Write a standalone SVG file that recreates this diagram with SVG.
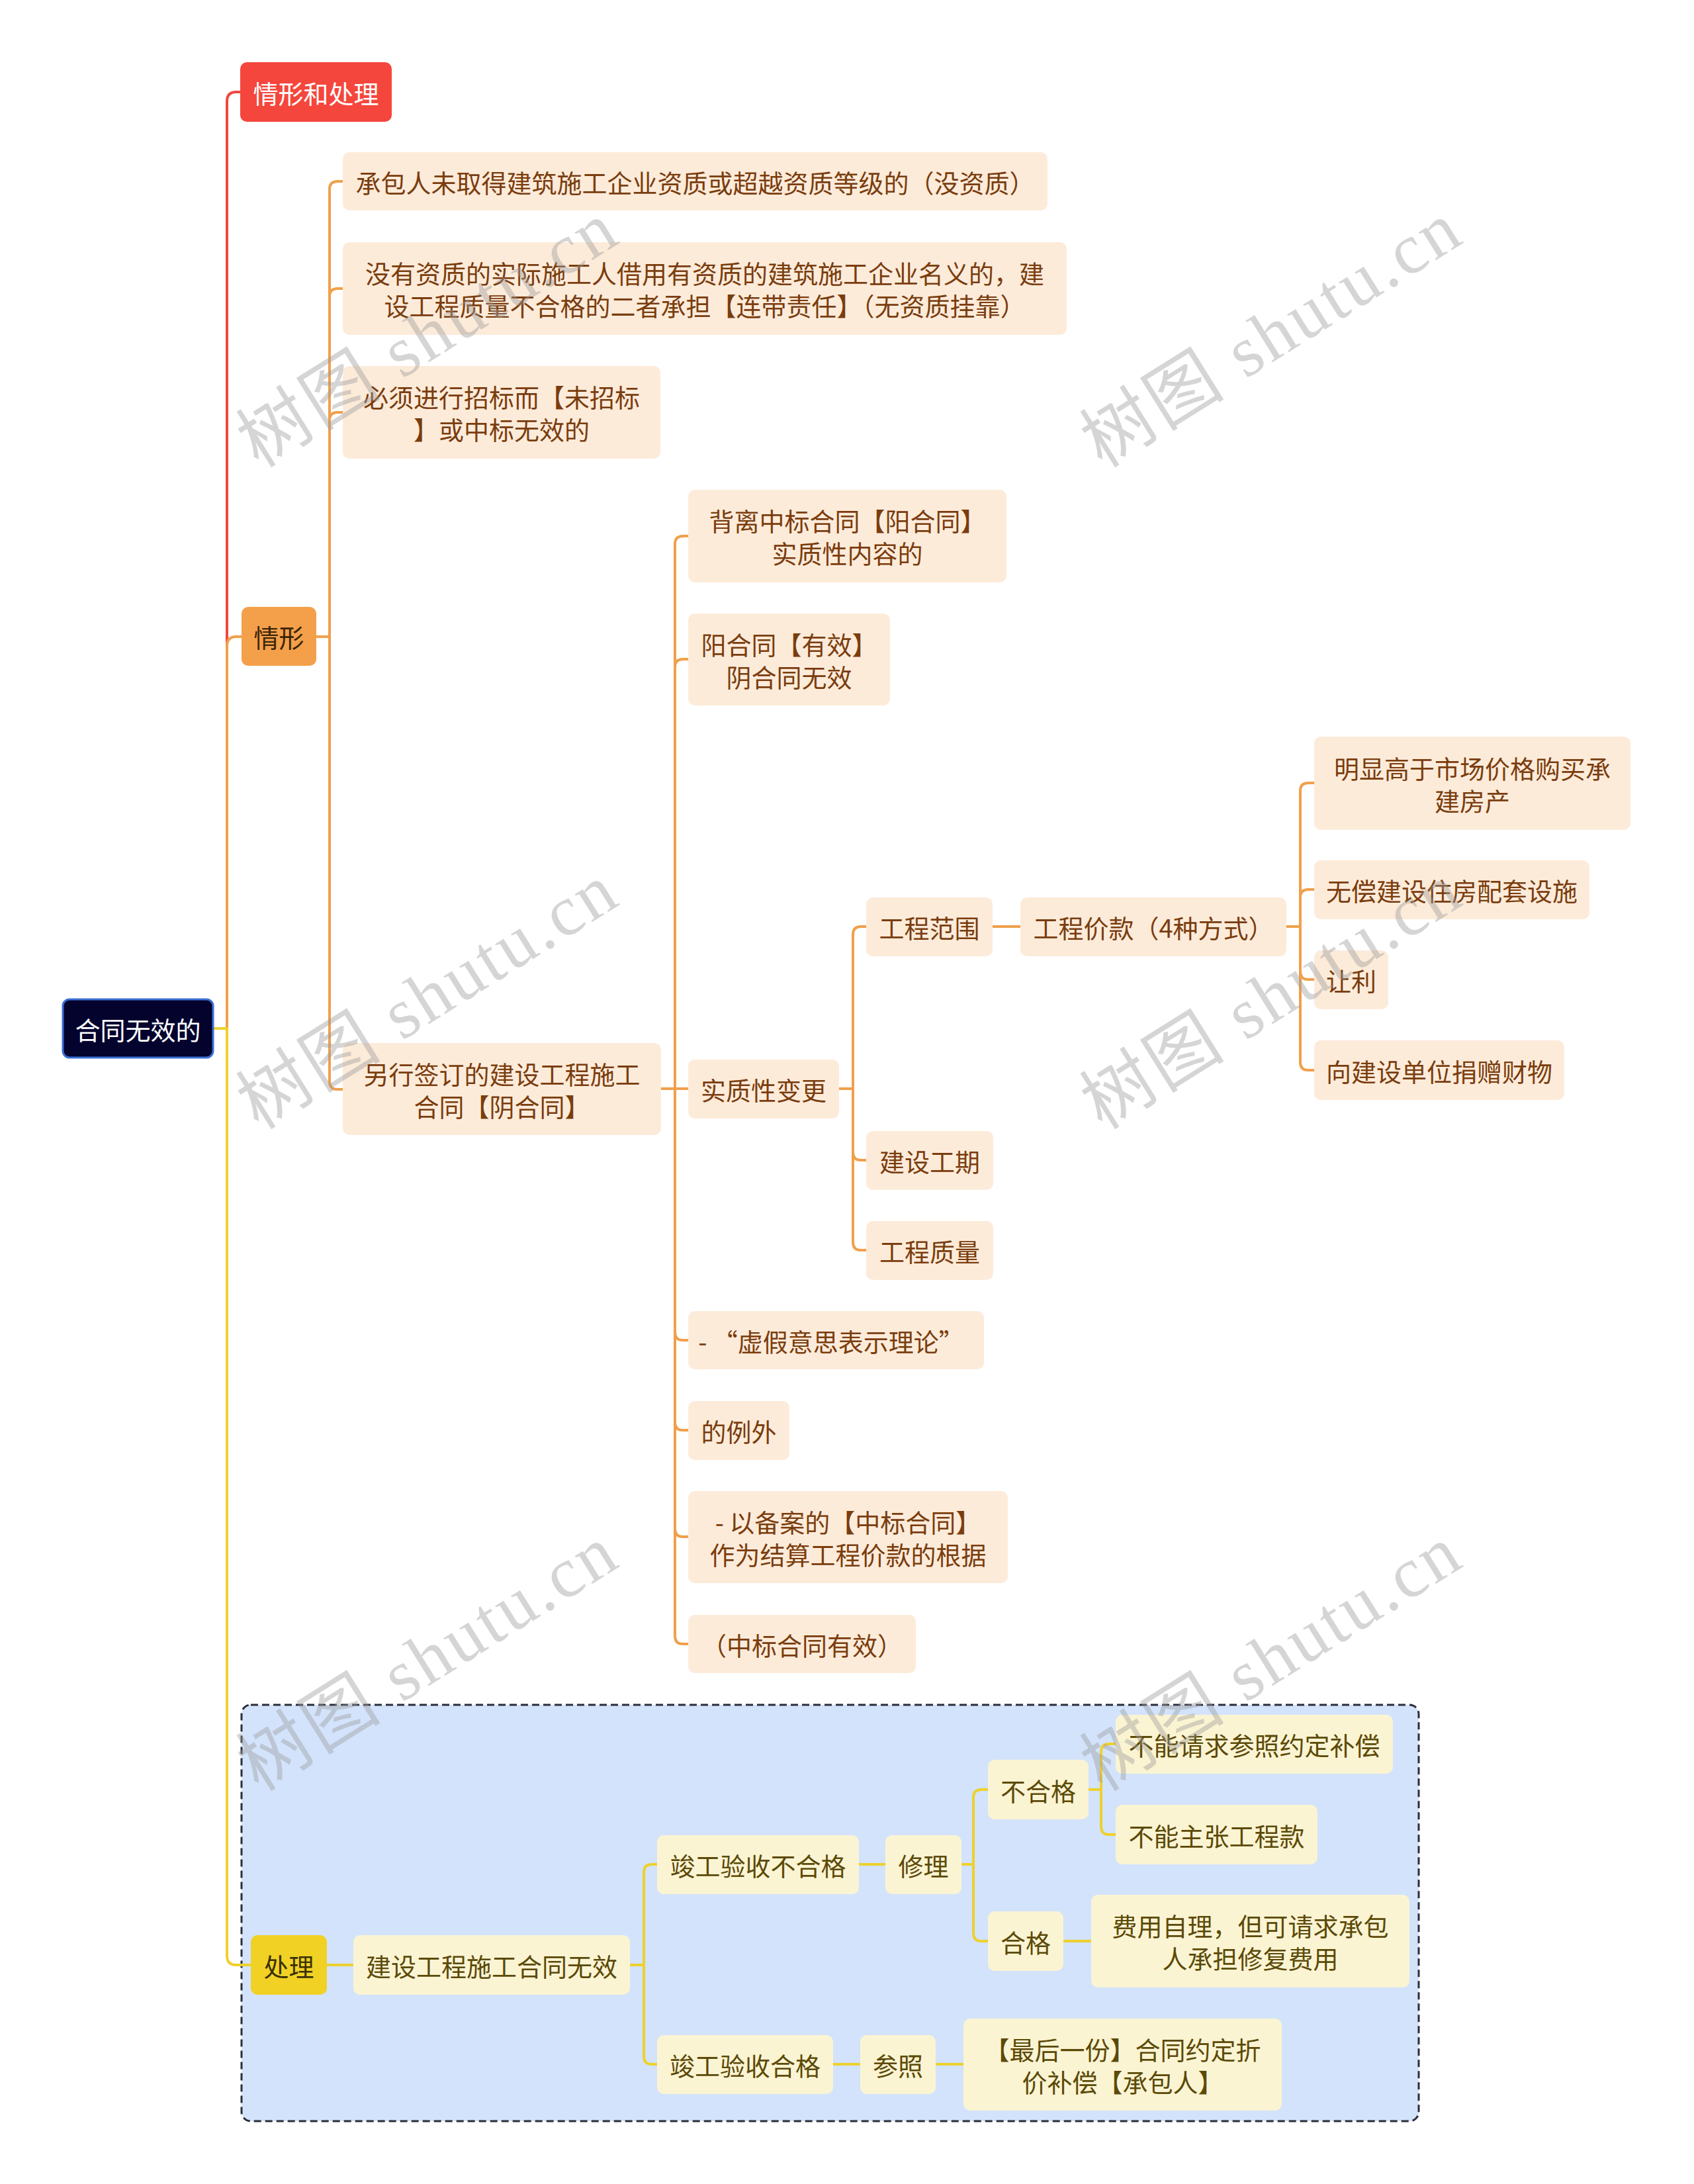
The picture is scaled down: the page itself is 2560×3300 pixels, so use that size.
<svg xmlns="http://www.w3.org/2000/svg" width="2560" height="3300" viewBox="0 0 2560 3300">
<style>
text{font-family:"Noto Sans CJK SC","Noto Sans",sans-serif;font-size:38px;text-anchor:middle;dominant-baseline:central}
.pe rect{fill:#FDEBDA}
.pe text{fill:#7A3D0E}
.ye rect{fill:#FBF4D3}
.ye text{fill:#5B4A08}
.c{fill:none;stroke-width:4;stroke-linecap:round;stroke-linejoin:round}
.co{stroke:#F0A04C}
.cy{stroke:#EDD12E}
.cr{stroke:#EE4840}
.wm{font-family:"Liberation Serif","Noto Sans CJK SC",serif;font-size:108px;fill:#9a9a9a;fill-opacity:0.42;letter-spacing:4px}
</style>
<rect width="2560" height="3300" fill="#FFFFFF"/>
<rect id="boundary" x="365" y="2576" width="1779" height="629" rx="14" fill="#D3E3FB" stroke="#2B2E3A" stroke-width="3" stroke-dasharray="11 6"/>
<g id="connectors">
<path class="c cr" d="M322 1554 H343 V153 Q343 139 357 139 H363"/>
<path class="c co" d="M322 1554 H343 V976 Q343 962 357 962 H365"/>
<path class="c cy" d="M322 1554 H343 V2955 Q343 2969 357 2969 H379"/>
<path class="c co" d="M478 962 H498 V286 Q498 274 510 274 H518"/>
<path class="c co" d="M478 962 H498 V448 Q498 436 510 436 H518"/>
<path class="c co" d="M478 962 H498 V635 Q498 623 510 623 H518"/>
<path class="c co" d="M478 962 H498 V1634 Q498 1646 510 1646 H518"/>
<path class="c co" d="M999 1645 H1020 V822 Q1020 810 1032 810 H1040"/>
<path class="c co" d="M999 1645 H1020 V1008 Q1020 996 1032 996 H1040"/>
<path class="c co" d="M999 1645 H1040"/>
<path class="c co" d="M999 1645 H1020 V2013 Q1020 2025 1032 2025 H1040"/>
<path class="c co" d="M999 1645 H1020 V2149 Q1020 2161 1032 2161 H1040"/>
<path class="c co" d="M999 1645 H1020 V2310 Q1020 2322 1032 2322 H1040"/>
<path class="c co" d="M999 1645 H1020 V2472 Q1020 2484 1032 2484 H1040"/>
<path class="c co" d="M1268 1645 H1289 V1412 Q1289 1400 1301 1400 H1309"/>
<path class="c co" d="M1268 1645 H1289 V1741 Q1289 1753 1301 1753 H1309"/>
<path class="c co" d="M1268 1645 H1289 V1877 Q1289 1889 1301 1889 H1309"/>
<path class="c co" d="M1500 1400 H1542"/>
<path class="c co" d="M1944 1400 H1965 V1195 Q1965 1183 1977 1183 H1986"/>
<path class="c co" d="M1944 1400 H1965 V1356 Q1965 1344 1977 1344 H1986"/>
<path class="c co" d="M1944 1400 H1965 V1468 Q1965 1480 1977 1480 H1986"/>
<path class="c co" d="M1944 1400 H1965 V1605 Q1965 1617 1977 1617 H1986"/>
<path class="c cy" d="M494 2969 H534"/>
<path class="c cy" d="M952 2969 H973 V2829 Q973 2817 985 2817 H993"/>
<path class="c cy" d="M952 2969 H973 V3107 Q973 3119 985 3119 H993"/>
<path class="c cy" d="M1298 2817 H1338"/>
<path class="c cy" d="M1453 2817 H1471 V2716 Q1471 2704 1483 2704 H1493"/>
<path class="c cy" d="M1453 2817 H1471 V2921 Q1471 2933 1483 2933 H1493"/>
<path class="c cy" d="M1645 2704 H1664 V2647 Q1664 2635 1676 2635 H1686"/>
<path class="c cy" d="M1645 2704 H1664 V2760 Q1664 2772 1676 2772 H1686"/>
<path class="c cy" d="M1607 2933 H1649"/>
<path class="c cy" d="M1259 3119 H1300"/>
<path class="c cy" d="M1414 3119 H1456"/>
</g>
<g id="root"><rect x="95" y="1510" width="227" height="88" rx="10" fill="#03032E" stroke="#3B6FD4" stroke-width="3"/><text x="208.5" y="1554" fill="#FFFFFF">合同无效的</text></g>
<g id="n-qxhcl"><rect x="363" y="94" width="229" height="90" rx="10" fill="#F5463D"/><text x="477.5" y="139" fill="#FFFFFF">情形和处理</text></g>
<g id="n-qx"><rect x="365" y="917" width="113" height="89" rx="10" fill="#F4A04A"/><text x="421.5" y="961.5" fill="#3B2508">情形</text></g>
<g id="n-cl"><rect x="379" y="2924" width="115" height="90" rx="10" fill="#F0D124"/><text x="436.5" y="2969" fill="#3A3000">处理</text></g>
<g id="a1" class="pe"><rect x="518" y="230" width="1065" height="88" rx="10"/><text x="1050.5" y="274">承包人未取得建筑施工企业资质或超越资质等级的（没资质）</text></g>
<g id="a2" class="pe"><rect x="518" y="366" width="1094" height="140" rx="10"/><text x="1065" y="411.5">没有资质的实际施工人借用有资质的建筑施工企业名义的，建</text><text x="1065" y="460.5">设工程质量不合格的二者承担【连带责任】（无资质挂靠）</text></g>
<g id="a3" class="pe"><rect x="518" y="553" width="480" height="140" rx="10"/><text x="758" y="598.5">必须进行招标而【未招标</text><text x="758" y="647.5">】或中标无效的</text></g>
<g id="a4" class="pe"><rect x="518" y="1576" width="481" height="139" rx="10"/><text x="758.5" y="1621">另行签订的建设工程施工</text><text x="758.5" y="1670">合同【阴合同】</text></g>
<g id="b1" class="pe"><rect x="1040" y="740" width="481" height="140" rx="10"/><text x="1280.5" y="785.5">背离中标合同【阳合同】</text><text x="1280.5" y="834.5">实质性内容的</text></g>
<g id="b2" class="pe"><rect x="1040" y="927" width="305" height="139" rx="10"/><text x="1192.5" y="972">阳合同【有效】</text><text x="1192.5" y="1021">阴合同无效</text></g>
<g id="b3" class="pe"><rect x="1040" y="1601" width="228" height="89" rx="10"/><text x="1154" y="1645.5">实质性变更</text></g>
<g id="b4" class="pe"><rect x="1040" y="1981" width="447" height="88" rx="10"/><text x="1256" y="2025">-  “虚假意思表示理论”</text></g>
<g id="b5" class="pe"><rect x="1040" y="2117" width="153" height="89" rx="10"/><text x="1116.5" y="2161.5">的例外</text></g>
<g id="b6" class="pe"><rect x="1040" y="2253" width="483" height="139" rx="10"/><text x="1281.5" y="2298">- 以备案的【中标合同】</text><text x="1281.5" y="2347">作为结算工程价款的根据</text></g>
<g id="b7" class="pe"><rect x="1040" y="2440" width="344" height="88" rx="10"/><text x="1212" y="2484">（中标合同有效）</text></g>
<g id="c1" class="pe"><rect x="1309" y="1356" width="191" height="89" rx="10"/><text x="1404.5" y="1400.5">工程范围</text></g>
<g id="c2" class="pe"><rect x="1309" y="1709" width="192" height="89" rx="10"/><text x="1405" y="1753.5">建设工期</text></g>
<g id="c3" class="pe"><rect x="1309" y="1845" width="192" height="89" rx="10"/><text x="1405" y="1889.5">工程质量</text></g>
<g id="d1" class="pe"><rect x="1542" y="1356" width="402" height="89" rx="10"/><text x="1743" y="1400.5">工程价款（4种方式）</text></g>
<g id="e1" class="pe"><rect x="1986" y="1113" width="478" height="141" rx="10"/><text x="2225" y="1159">明显高于市场价格购买承</text><text x="2225" y="1208">建房产</text></g>
<g id="e2" class="pe"><rect x="1986" y="1300" width="416" height="89" rx="10"/><text x="2194" y="1344.5">无偿建设住房配套设施</text></g>
<g id="e3" class="pe"><rect x="1986" y="1436" width="112" height="89" rx="10"/><text x="2042" y="1480.5">让利</text></g>
<g id="e4" class="pe"><rect x="1986" y="1572" width="378" height="90" rx="10"/><text x="2175" y="1617">向建设单位捐赠财物</text></g>
<g id="f1" class="ye"><rect x="534" y="2924" width="418" height="90" rx="10"/><text x="743" y="2969">建设工程施工合同无效</text></g>
<g id="g1" class="ye"><rect x="993" y="2773" width="305" height="89" rx="10"/><text x="1145.5" y="2817.5">竣工验收不合格</text></g>
<g id="g2" class="ye"><rect x="993" y="3075" width="266" height="89" rx="10"/><text x="1126" y="3119.5">竣工验收合格</text></g>
<g id="h1" class="ye"><rect x="1338" y="2773" width="115" height="89" rx="10"/><text x="1395.5" y="2817.5">修理</text></g>
<g id="h2" class="ye"><rect x="1300" y="3075" width="114" height="89" rx="10"/><text x="1357" y="3119.5">参照</text></g>
<g id="i1" class="ye"><rect x="1493" y="2659" width="152" height="90" rx="10"/><text x="1569" y="2704">不合格</text></g>
<g id="i2" class="ye"><rect x="1493" y="2888" width="114" height="90" rx="10"/><text x="1550" y="2933">合格</text></g>
<g id="i3" class="ye"><rect x="1456" y="3050" width="481" height="139" rx="10"/><text x="1696.5" y="3095">【最后一份】合同约定折</text><text x="1696.5" y="3144">价补偿【承包人】</text></g>
<g id="j1" class="ye"><rect x="1686" y="2591" width="419" height="89" rx="10"/><text x="1895.5" y="2635.5">不能请求参照约定补偿</text></g>
<g id="j2" class="ye"><rect x="1686" y="2727" width="305" height="90" rx="10"/><text x="1838.5" y="2772">不能主张工程款</text></g>
<g id="j3" class="ye"><rect x="1649" y="2863" width="481" height="140" rx="10"/><text x="1889.5" y="2908.5">费用自理，但可请求承包</text><text x="1889.5" y="2957.5">人承担修复费用</text></g>
<g id="watermarks">
<text class="wm" transform="translate(647 505) rotate(-32)">树图 shutu.cn</text>
<text class="wm" transform="translate(1922 505) rotate(-32)">树图 shutu.cn</text>
<text class="wm" transform="translate(647 1505) rotate(-32)">树图 shutu.cn</text>
<text class="wm" transform="translate(1922 1505) rotate(-32)">树图 shutu.cn</text>
<text class="wm" transform="translate(647 2505) rotate(-32)">树图 shutu.cn</text>
<text class="wm" transform="translate(1922 2505) rotate(-32)">树图 shutu.cn</text>
</g>
</svg>
